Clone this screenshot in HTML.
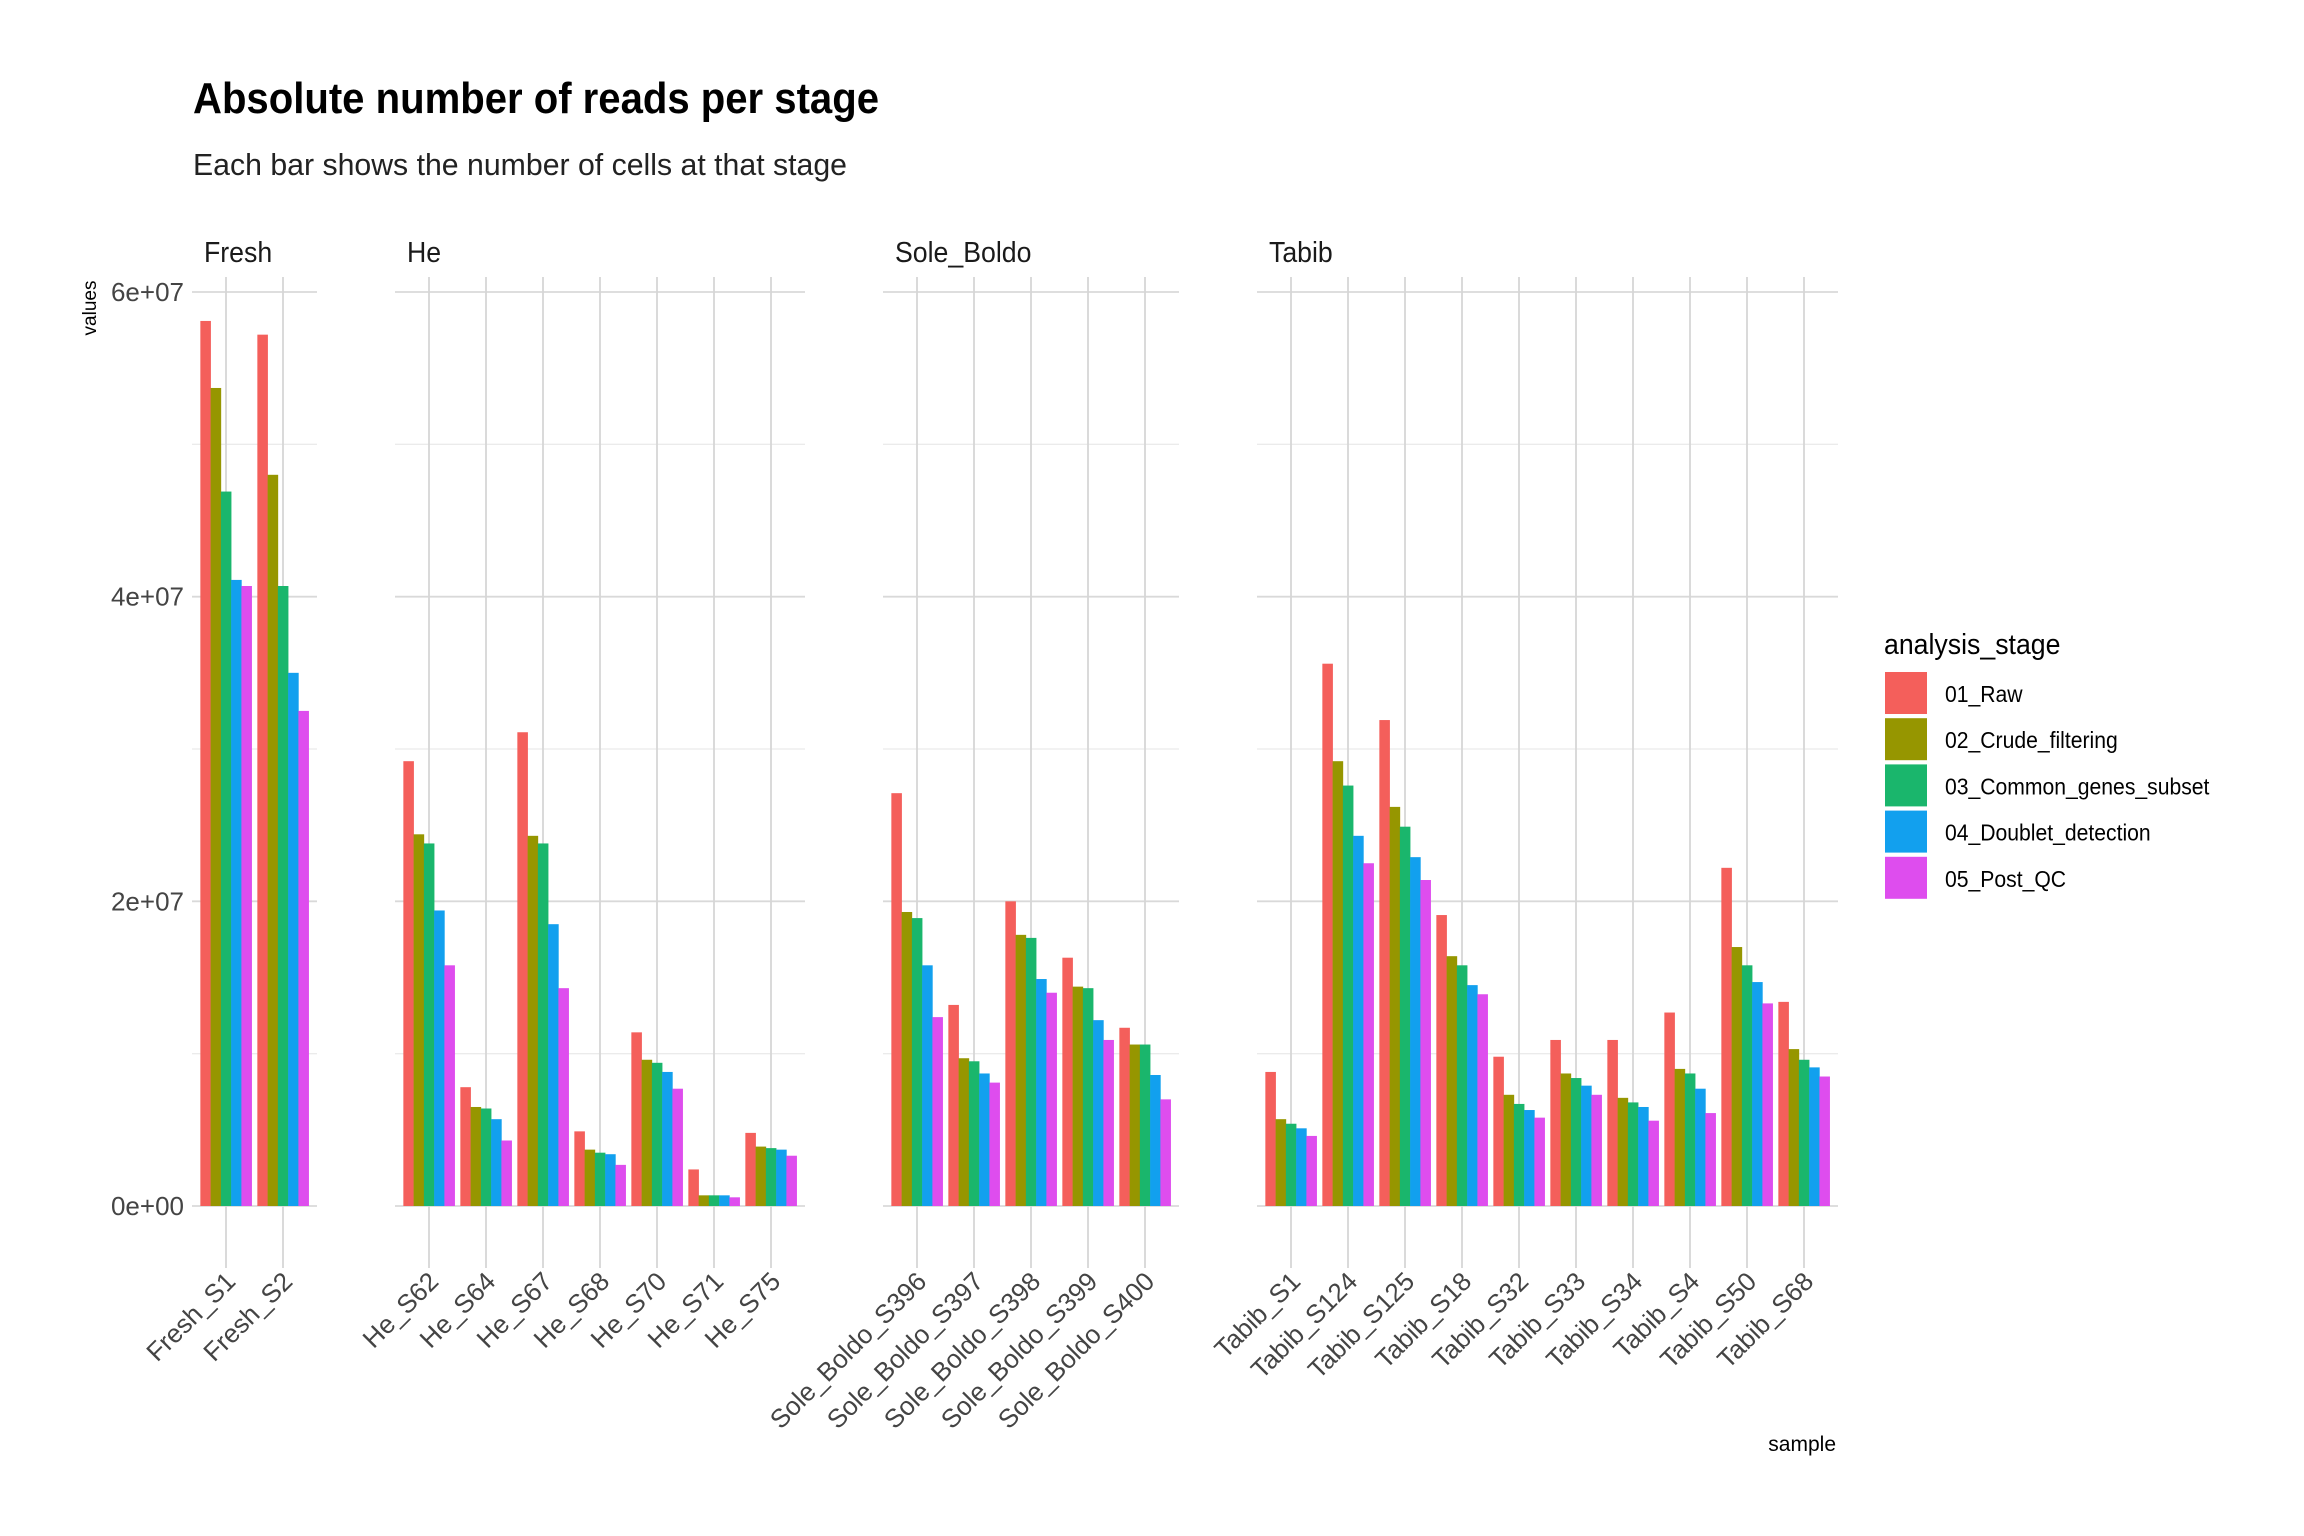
<!DOCTYPE html>
<html><head><meta charset="utf-8">
<style>
html,body{margin:0;padding:0;background:#fff;}
svg{display:block;font-family:"Liberation Sans Narrow","Liberation Sans",sans-serif;}
</style></head>
<body>
<svg id="chart" width="2304" height="1536" viewBox="0 0 2304 1536">
<text x="193" y="113" font-size="44" font-weight="bold" fill="#000" textLength="686" lengthAdjust="spacingAndGlyphs">Absolute number of reads per stage</text>
<text x="193" y="175" font-size="31" fill="#222" textLength="654" lengthAdjust="spacingAndGlyphs">Each bar shows the number of cells at that stage</text>
<text transform="translate(96,308) rotate(-90)" text-anchor="middle" font-size="19" fill="#000">values</text>
<text x="1836" y="1451" text-anchor="end" font-size="21" fill="#000">sample</text>
<g id="panels"></g>
<g id="legend"></g>
</svg>
<script>
const stages = ["01_Raw","02_Crude_filtering","03_Common_genes_subset","04_Doublet_detection","05_Post_QC"];
const colors = ["#F45F5B","#969600","#1AB66C","#12A0EE","#DE4DEE"];
const facets = ["Fresh","He","Sole_Boldo","Tabib"];
const samplesFresh = ["Fresh_S1","Fresh_S2"];
const samplesHe = ["He_S62","He_S64","He_S67","He_S68","He_S70","He_S71","He_S75"];
const samplesSole = ["Sole_Boldo_S396","Sole_Boldo_S397","Sole_Boldo_S398","Sole_Boldo_S399","Sole_Boldo_S400"];
const samplesTabib = ["Tabib_S1","Tabib_S124","Tabib_S125","Tabib_S18","Tabib_S32","Tabib_S33","Tabib_S34","Tabib_S4","Tabib_S50","Tabib_S68"];
// values in millions, per sample: [raw, crude, common, doublet, postqc]
const valuesFresh = [[58.1,53.7,46.9,41.1,40.7],[57.2,48.0,40.7,35.0,32.5]];
const valuesHe = [[29.2,24.4,23.8,19.4,15.8],[7.8,6.5,6.4,5.7,4.3],[31.1,24.3,23.8,18.5,14.3],[4.9,3.7,3.5,3.4,2.7],[11.4,9.6,9.4,8.8,7.7],[2.4,0.7,0.7,0.7,0.57],[4.8,3.9,3.8,3.7,3.3]];
const valuesSole = [[27.1,19.3,18.9,15.8,12.4],[13.2,9.7,9.5,8.7,8.1],[20.0,17.8,17.6,14.9,14.0],[16.3,14.4,14.3,12.2,10.9],[11.7,10.6,10.6,8.6,7.0]];
const valuesTabib = [[8.8,5.7,5.4,5.1,4.6],[35.6,29.2,27.6,24.3,22.5],[31.9,26.2,24.9,22.9,21.4],[19.1,16.4,15.8,14.5,13.9],[9.8,7.3,6.7,6.3,5.8],[10.9,8.7,8.4,7.9,7.3],[10.9,7.1,6.8,6.5,5.6],[12.7,9.0,8.7,7.7,6.1],[22.2,17.0,15.8,14.7,13.3],[13.4,10.3,9.6,9.1,8.5]];
const yTicks = [0,20,40,60];
const yTickLabels = ["0e+00","2e+07","4e+07","6e+07"];
const yMinor = [10,30,50];

const NS="http://www.w3.org/2000/svg";
const Y0=1206, Y60=292, PTOP=277, UNIT=57, PAD=34, GAP=78, FIRSTX=192;
function yScale(v){return Y0-(v/60)*(Y0-Y60);}
function mk(tag,attrs,parent){const e=document.createElementNS(NS,tag);for(const k in attrs)e.setAttribute(k,attrs[k]);parent.appendChild(e);return e;}
const panelsG=document.getElementById('panels');
const allSamples=[samplesFresh,samplesHe,samplesSole,samplesTabib];
const allValues=[valuesFresh,valuesHe,valuesSole,valuesTabib];
let left=FIRSTX;
facets.forEach((f,fi)=>{
  const samples=allSamples[fi], vals=allValues[fi];
  const w=2*PAD+(samples.length-1)*UNIT;
  const right=left+w;
  const g=mk('g',{},panelsG);
  
  
  const strip=mk('text',{transform:`translate(${left+12},262) scale(0.92,1)`,'font-size':29,fill:'#1a1a1a'},g);
  strip.textContent=f;
  
  
  yMinor.forEach(v=>{const l=mk('line',{x1:left,x2:right,y1:yScale(v),y2:yScale(v),stroke:'#ebebeb','stroke-width':1.3},g);
    });
  yTicks.forEach(v=>{const l=mk('line',{x1:left,x2:right,y1:yScale(v),y2:yScale(v),stroke:'#d9d9d9','stroke-width':1.8},g);
    });
  samples.forEach((s,si)=>{
    const cx=left+PAD+si*UNIT;
    const l=mk('line',{x1:cx,x2:cx,y1:PTOP,y2:1268,stroke:'#d6d6d6','stroke-width':1.8},g);
    
    const bw=UNIT*0.9/5;
    vals[si].forEach((v,k)=>{
      const x=cx-UNIT*0.45+k*bw;
      const r=mk('rect',{x:x,y:yScale(v),width:bw+0.3,height:Y0-yScale(v),fill:colors[k]},g);
      
      
    });
    const t=mk('text',{transform:`translate(${cx+11},1283) rotate(-45)`,'text-anchor':'end','font-size':26,fill:'#444'},g);
    t.textContent=s;
    
    
  });
  if(fi===0){
    yTicks.forEach((v,i)=>{const t=mk('text',{x:184,y:yScale(v)+9,'text-anchor':'end','font-size':26,fill:'#444'},g);
      t.textContent=yTickLabels[i];
      
      });
  }
  left=right+GAP;
});
const lg=document.getElementById('legend');
const lt=mk('text',{transform:'translate(1884,654) scale(0.92,1)','font-size':29,fill:'#000'},lg);
lt.textContent='analysis_stage';


stages.forEach((s,i)=>{
  const y=672+i*46.2;
  const r=mk('rect',{x:1885,y:y,width:42,height:42,fill:colors[i]},lg);
  
  
  const t=mk('text',{transform:`translate(1945,${y+30}) scale(0.92,1)`,'font-size':23,fill:'#000'},lg);
  t.textContent=s;
  
  
});
</script>
</body></html>
